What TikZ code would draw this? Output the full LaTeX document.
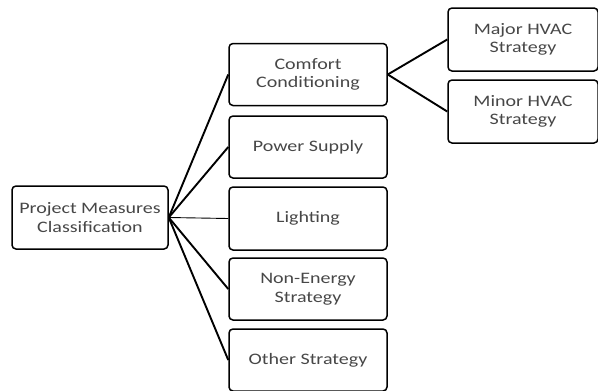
\documentclass[tikz,border=0pt]{standalone}
\usepackage{fontspec}
\setmainfont{Carlito}[FakeStretch=1.25]
\begin{document}
\begin{tikzpicture}[x=1pt, y=-1pt,
    box/.style={draw, line width=1.5pt, rounded corners=4pt, align=center,
        font=\fontsize{16}{18.5}\selectfont, text=black!72},
    midbox/.style={box, minimum width=158pt, minimum height=62pt},
    link/.style={line width=1.9pt}]
    \useasboundingbox (0,0) rectangle (598,391);
    \node[box, minimum width=156pt, minimum height=63pt] (root) at (90,217.5)
        {Project Measures\\Classification};
    \node[midbox] (comfort) at (308,74.5) {Comfort\\Conditioning};
    \node[midbox] (power) at (308,147) {Power Supply};
    \node[midbox, minimum height=63pt] (light) at (308,218.5) {Lighting};
    \node[midbox] (nonenergy) at (308,289) {Non-Energy\\Strategy};
    \node[midbox] (other) at (308,360) {Other Strategy};
    \node[box, minimum width=150pt, minimum height=63pt] (major) at (523,39.5)
        {Major HVAC\\Strategy};
    \node[box, minimum width=150pt, minimum height=63pt] (minor) at (523,111.5)
        {Minor HVAC\\Strategy};
    % links from the root
    \draw[link] (root.east) -- (comfort.west);
    \draw[link] (root.east) -- (power.west);
    \draw[line width=0.9pt] (root.east) -- (light.west);
    \draw[link] (root.east) -- (nonenergy.west);
    \draw[link] (root.east) -- (other.west);
    % HVAC split
    \draw[link] (comfort.east) -- (major.west);
    \draw[link] (comfort.east) -- (minor.west);
\end{tikzpicture}
\end{document}
